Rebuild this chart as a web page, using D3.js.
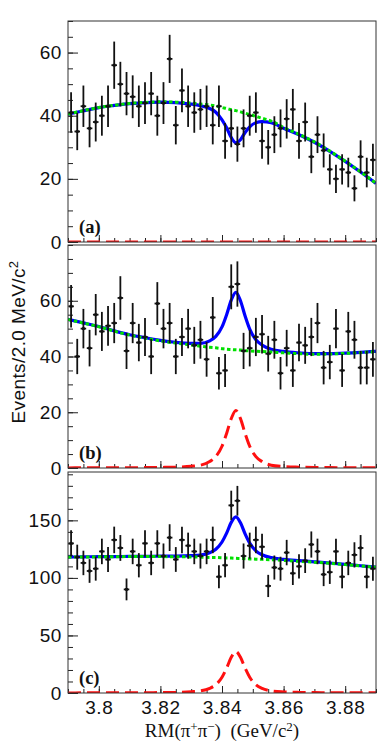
<!DOCTYPE html>
<html>
<head>
<meta charset="utf-8">
<script src="https://cdn.jsdelivr.net/npm/d3@7"></script>
<style>
body{margin:0;background:#fff;}
svg{display:block;}
</style>
</head>
<body>
<div id="chart"></div>
<script>
// 2 MeV bins, centres in GeV
var binCenters = [3.791,3.793,3.795,3.797,3.799,3.801,3.803,3.805,3.807,3.809,
    3.811,3.813,3.815,3.817,3.819,3.821,3.823,3.825,3.827,3.829,
    3.831,3.833,3.835,3.837,3.839,3.841,3.843,3.845,3.847,3.849,
    3.851,3.853,3.855,3.857,3.859,3.861,3.863,3.865,3.867,3.869,
    3.871,3.873,3.875,3.877,3.879,3.881,3.883,3.885,3.887,3.889];

var countsA = [41,35,43,36,38,40,43,56,50,47,46,43,44,47,40,44,58,37,48,43,
    41,42,43,37,43,32,36,31,36,40,41,32,30,34,36,39,42,32,38,27,
    34,29,23,20,23,22,17,27,22,26];
var countsB = [58,40,50,43,55,49,51,52,61,42,52,45,47,40,59,50,52,40,47,50,
    44,46,39,54,34,35,65,66,42,43,47,48,41,46,34,43,35,45,44,47,
    52,36,38,50,35,49,46,36,36,39];
var countsC = [130,118,113,106,108,123,116,133,126,90,123,111,130,113,130,119,135,116,133,128,
    123,119,123,133,101,111,163,167,119,128,133,127,93,109,108,122,104,110,115,129,
    123,103,105,123,101,113,120,126,101,108];

var fitMass = [3.790,3.795,3.800,3.805,3.810,3.815,3.820,3.825,3.830,3.833,3.836,3.838,3.840,3.8415,
    3.843,3.8445,3.846,3.8475,3.849,3.851,3.853,3.856,3.860,3.865,3.870,3.875,3.880,3.885,3.890];
var bkgA = [40.5,41.6,42.6,43.3,43.9,44.2,44.4,44.3,44.0,43.7,43.4,43.1,42.6,42.3,
    41.9,41.6,41.2,40.8,40.4,39.8,39.2,38.3,36.3,34.1,31.7,28.8,25.6,22.2,18.6];
var sigA = [-0.02,-0.03,-0.03,-0.04,-0.05,-0.07,-0.1,-0.15,-0.31,-0.51,-1.1,-2.0,-3.9,-6.1,
    -8.8,-10.2,-8.8,-6.1,-3.9,-2.0,-1.1,-0.51,-0.26,-0.15,-0.1,-0.07,-0.05,-0.04,-0.03];
var bkgB = [53.3,52.0,50.7,49.1,47.7,46.6,45.6,44.8,44.1,43.7,43.3,43.1,42.8,42.6,
    42.5,42.4,42.3,42.1,42.0,41.9,41.8,41.6,41.3,41.0,40.8,40.9,41.1,41.4,41.8];
var sigB = [0.04,0.06,0.06,0.08,0.1,0.14,0.21,0.31,0.62,1.0,2.3,4.1,7.8,12.4,
    17.7,20.6,17.7,12.4,7.8,4.1,2.3,1.0,0.52,0.31,0.21,0.14,0.1,0.08,0.06];
var bkgC = [118.0,118.2,118.3,118.4,118.5,118.5,118.5,118.4,118.2,118.0,117.8,117.7,117.5,117.3,
    117.2,117.0,116.9,116.7,116.5,116.3,116.1,115.8,115.2,114.4,113.6,112.7,111.6,110.4,109.2];
var sigC = [0.07,0.11,0.11,0.14,0.18,0.25,0.36,0.54,1.1,1.8,4.0,7.2,13.7,21.6,
    31.0,36.0,31.0,21.6,13.7,7.2,4.0,1.8,0.9,0.54,0.36,0.25,0.18,0.14,0.11];

// axis ticks
var massTicks = [3.80,3.82,3.84,3.86,3.88];
var massTickLabels = ["3.8","3.82","3.84","3.86","3.88"];
var yTicksA = [0,20,40,60];
var yTicksB = [0,20,40,60];
var yTicksC = [0,50,100,150];

var W = 381, H = 747;
var left = 68, right = 376;
var fontSans = "'Liberation Sans', Arial, Helvetica, sans-serif";
var fontSerif = "'Liberation Serif', 'Times New Roman', serif";

var panels = [
    {id: "a", label: "(a)", top: 21, bottom: 242, ymax: 70, minorStep: 5, ticks: yTicksA, counts: countsA, bkg: bkgA, sig: sigA},
    {id: "b", label: "(b)", top: 245, bottom: 468, ymax: 80, minorStep: 5, ticks: yTicksB, counts: countsB, bkg: bkgB, sig: sigB},
    {id: "c", label: "(c)", top: 472, bottom: 693, ymax: 192, minorStep: 10, ticks: yTicksC, counts: countsC, bkg: bkgC, sig: sigC}
];

var svg = d3.select("#chart").append("svg").attr("width", W).attr("height", H);
var defs = svg.append("defs");

var x = d3.scaleLinear().domain([3.79, 3.89]).range([left, right]);
var minorMass = d3.range(3.790, 3.8901, 0.005);

panels.forEach(function(p){
    var y = d3.scaleLinear().domain([0, p.ymax]).range([p.bottom, p.top]);
    var g = svg.append("g");

    defs.append("clipPath").attr("id", "clip_" + p.id)
        .append("rect").attr("x", left).attr("y", p.top)
        .attr("width", right - left).attr("height", p.bottom - p.top);

    // y axis, ticks pointing inwards
    var minors = d3.range(0, p.ymax + 0.01, p.minorStep);
    g.append("g").attr("transform", "translate(" + left + ",0)")
        .call(d3.axisLeft(y).tickValues(minors).tickSize(-5).tickSizeOuter(0).tickFormat(""))
        .call(function(s){ s.select(".domain").remove(); });
    var yAxis = g.append("g").attr("transform", "translate(" + left + ",0)")
        .call(d3.axisLeft(y).tickValues(p.ticks).tickSize(-10).tickSizeOuter(0).tickPadding(6));
    yAxis.select(".domain").remove();
    yAxis.selectAll("text").attr("font-family", fontSans).attr("font-size", 19)
        .attr("letter-spacing", 0.6).attr("fill", "#111");

    // x axis ticks pointing up
    g.append("g").attr("transform", "translate(0," + p.bottom + ")")
        .call(d3.axisBottom(x).tickValues(minorMass).tickSize(-4).tickSizeOuter(0).tickFormat(""))
        .call(function(s){ s.select(".domain").remove(); });
    var xAxis = g.append("g").attr("transform", "translate(0," + p.bottom + ")")
        .call(d3.axisBottom(x).tickValues(massTicks).tickSize(-7).tickSizeOuter(0)
            .tickPadding(8).tickFormat(function(d, i){ return p.id === "c" ? massTickLabels[i] : ""; }));
    xAxis.select(".domain").remove();
    xAxis.selectAll("text").attr("font-family", fontSans).attr("font-size", 19)
        .attr("letter-spacing", 0.6).attr("fill", "#111");
    g.selectAll(".tick line").attr("stroke", "#222");

    var plot = g.append("g").attr("clip-path", "url(#clip_" + p.id + ")");

    // fit curves: signal (red), total (blue), background (green)
    var line = d3.line().curve(d3.curveMonotoneX);
    var sigPts = fitMass.map(function(m, i){ return [x(m), y(Math.max(0, p.sig[i]))]; });
    var totPts = fitMass.map(function(m, i){ return [x(m), y(p.bkg[i] + p.sig[i])]; });
    var bkgPts = fitMass.map(function(m, i){ return [x(m), y(p.bkg[i])]; });

    plot.append("path").attr("d", line(sigPts)).attr("fill", "none")
        .attr("stroke", "#ff1010").attr("stroke-width", 3).attr("stroke-dasharray", "13,6");
    plot.append("path").attr("d", line(totPts)).attr("fill", "none")
        .attr("stroke", "#0000ff").attr("stroke-width", 3.2);
    plot.append("path").attr("d", line(bkgPts)).attr("fill", "none")
        .attr("stroke", "#00e000").attr("stroke-width", 3).attr("stroke-dasharray", "3.5,2.5");

    // data points with poisson errors
    var pts = plot.selectAll(".pt").data(p.counts).enter().append("g").attr("class", "pt");
    pts.append("line")
        .attr("x1", function(d, i){ return x(binCenters[i]); })
        .attr("x2", function(d, i){ return x(binCenters[i]); })
        .attr("y1", function(d){ return y(d + Math.sqrt(d)); })
        .attr("y2", function(d){ return y(d - Math.sqrt(d)); })
        .attr("stroke", "#111").attr("stroke-width", 1.8);
    pts.append("line")
        .attr("x1", function(d, i){ return x(binCenters[i] - 0.0009); })
        .attr("x2", function(d, i){ return x(binCenters[i] + 0.0009); })
        .attr("y1", function(d){ return y(d); })
        .attr("y2", function(d){ return y(d); })
        .attr("stroke", "#111").attr("stroke-width", 1.8);
    pts.append("rect")
        .attr("x", function(d, i){ return x(binCenters[i]) - 1.4; })
        .attr("y", function(d){ return y(d) - 1.4; })
        .attr("width", 2.8).attr("height", 2.8).attr("fill", "#111");

    // frame
    g.append("rect").attr("x", left).attr("y", p.top)
        .attr("width", right - left).attr("height", p.bottom - p.top)
        .attr("fill", "none").attr("stroke", "#333").attr("stroke-width", 1);

    g.append("text").attr("x", 79).attr("y", p.bottom - 9)
        .attr("font-family", fontSerif).attr("font-weight", "bold").attr("font-size", 18.5)
        .attr("fill", "#111").text(p.label);
});

// axis titles
var yt = svg.append("text")
    .attr("transform", "translate(25,342) rotate(-90)")
    .attr("text-anchor", "middle")
    .attr("font-family", fontSans).attr("font-size", 19).attr("letter-spacing", 0.4)
    .attr("fill", "#111");
yt.append("tspan").text("Events/2.0 MeV/c");
yt.append("tspan").attr("dy", -7).attr("font-size", 13).text("2");

var xt = svg.append("text")
    .attr("x", 222).attr("y", 737)
    .attr("text-anchor", "middle")
    .attr("font-family", fontSerif).attr("font-size", 19).attr("fill", "#111");
xt.append("tspan").text("RM(\u03C0");
xt.append("tspan").attr("dy", -6).attr("font-size", 13).text("+");
xt.append("tspan").attr("dy", 6).text("\u03C0");
xt.append("tspan").attr("dy", -6).attr("font-size", 13).text("\u2212");
xt.append("tspan").attr("dy", 6).text(")\u00A0\u00A0(GeV/c");
xt.append("tspan").attr("dy", -6).attr("font-size", 13).text("2");
xt.append("tspan").attr("dy", 6).text(")");
</script>
</body>
</html>
